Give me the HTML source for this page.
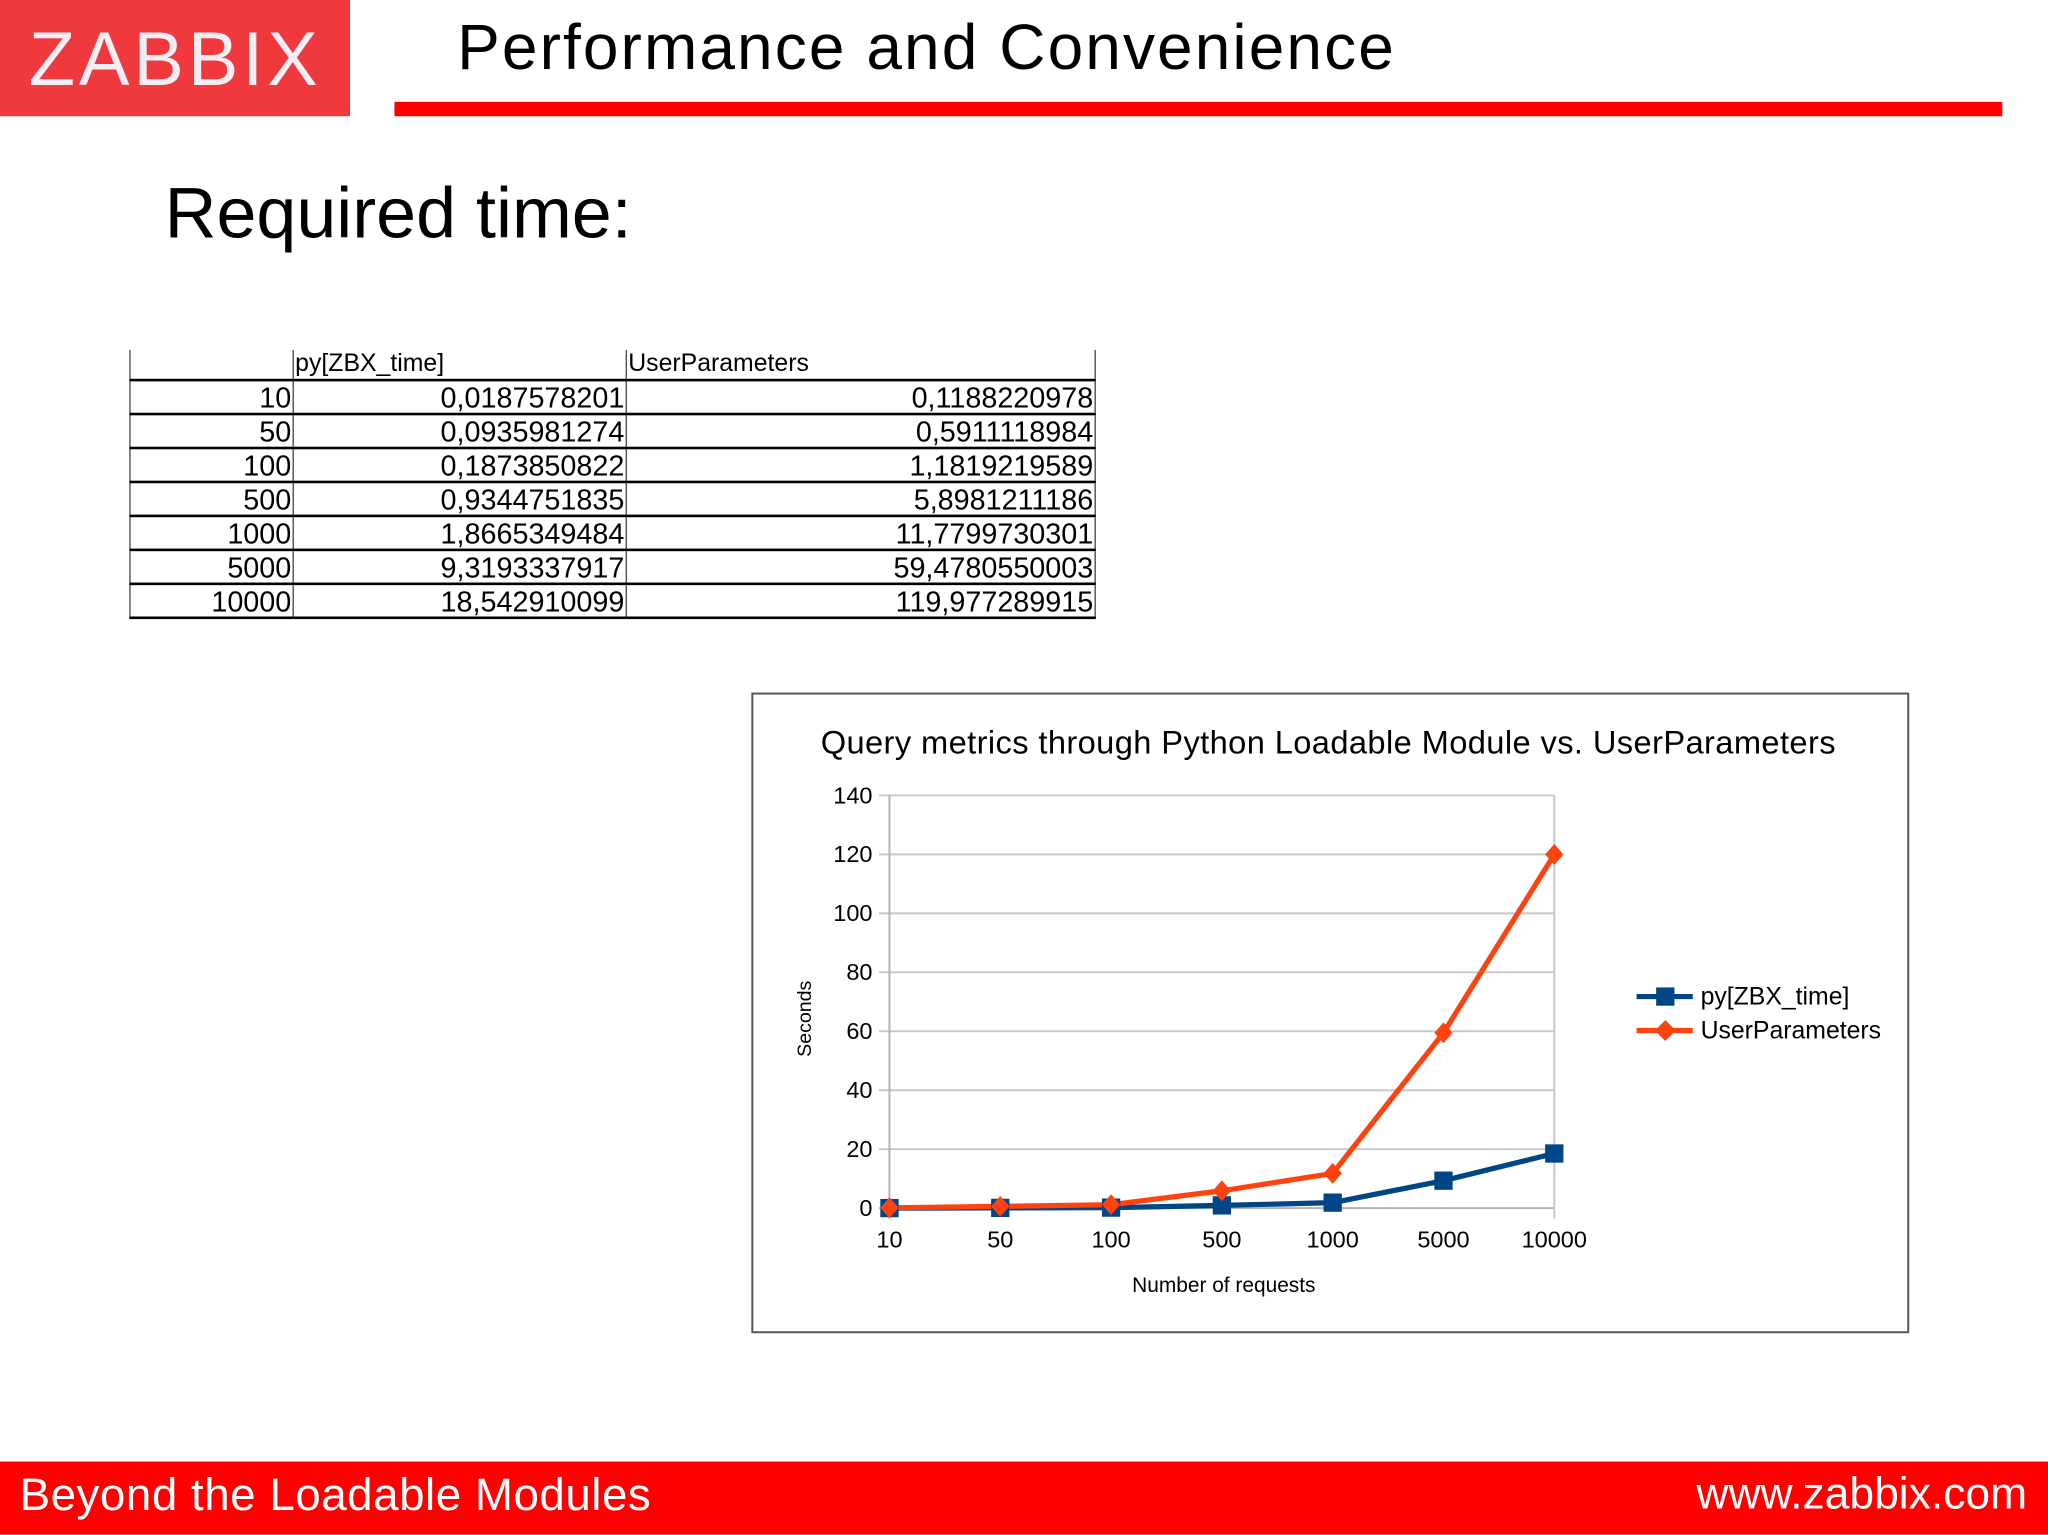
<!DOCTYPE html>
<html><head><meta charset="utf-8"><style>
html,body{margin:0;padding:0;background:#fff;width:2048px;height:1535px;overflow:hidden}
#stage{position:absolute;left:0;top:0;width:1568px;height:1175px;transform:scale(1.30612);transform-origin:0 0;font-family:"Liberation Sans",sans-serif}
.abs{position:absolute;white-space:nowrap}
table{border-collapse:collapse;position:absolute;left:99px;top:268px;font-family:"Liberation Sans",sans-serif}
td{border-bottom:2px solid #000;border-right:1px solid #444;padding:0 1px;height:24px;font-size:22px;text-align:right;vertical-align:bottom;line-height:22px}
tr.h td{border-bottom:2px solid #000;font-size:19px;text-align:left;height:22px}
td:first-child{border-left:1px solid #444}
</style></head><body>
<div id="stage">
  <div class="abs" style="left:0;top:0;width:268px;height:89px;background:#f0393c;color:#f4eef4;font-size:58px;letter-spacing:3px;line-height:92px;text-indent:22px">ZABBIX</div>
  <div class="abs" style="left:350px;top:9px;font-size:49px;letter-spacing:1.6px;color:#000">Performance and Convenience</div>
  <div class="abs" style="left:302px;top:78px;width:1231px;height:11px;background:#ff0000"></div>
  <div class="abs" style="left:126px;top:131px;font-size:55px;color:#000">Required time:</div>

  <table>
    <tr class="h"><td style="width:122px"></td><td style="width:252px">py[ZBX_time]</td><td style="width:356px">UserParameters</td></tr>
    <tr><td>10</td><td>0,0187578201</td><td>0,1188220978</td></tr>
    <tr><td>50</td><td>0,0935981274</td><td>0,5911118984</td></tr>
    <tr><td>100</td><td>0,1873850822</td><td>1,1819219589</td></tr>
    <tr><td>500</td><td>0,9344751835</td><td>5,8981211186</td></tr>
    <tr><td>1000</td><td>1,8665349484</td><td>11,7799730301</td></tr>
    <tr><td>5000</td><td>9,3193337917</td><td>59,4780550003</td></tr>
    <tr><td>10000</td><td>18,542910099</td><td>119,977289915</td></tr>
  </table>

  <svg class="abs" style="left:0;top:0" width="1568" height="1175" id="chart">
    <rect x="576" y="531" width="885" height="489" fill="#fff" stroke="#555" stroke-width="1.5"/>
    <text x="1017" y="577" text-anchor="middle" font-size="25" letter-spacing="0.3" font-family="Liberation Sans">Query metrics through Python Loadable Module vs. UserParameters</text>
    <g id="grid"></g><g id="series"></g>
    <text transform="translate(621,780) rotate(-90)" text-anchor="middle" font-size="15" font-family="Liberation Sans">Seconds</text>
    <text x="937" y="989" text-anchor="middle" font-size="16" font-family="Liberation Sans">Number of requests</text>
    <line x1="1253" y1="763" x2="1296" y2="763" stroke="#004586" stroke-width="4"/>
    <rect x="1268" y="756" width="14" height="14" fill="#004586"/>
    <text x="1302" y="769" font-size="19" font-family="Liberation Sans">py[ZBX_time]</text>
    <line x1="1253" y1="789" x2="1296" y2="789" stroke="#ff420e" stroke-width="4"/>
    <path d="M1275 781 L1283 789 L1275 797 L1267 789Z" fill="#ff420e"/>
    <text x="1302" y="795" font-size="19" font-family="Liberation Sans">UserParameters</text>
  </svg>

  <div class="abs" style="left:0;top:1119px;width:1568px;height:56px;background:#ff0000"></div>
  <div class="abs" style="left:15px;top:1125px;font-size:35px;letter-spacing:0.4px;color:#fff">Beyond the Loadable Modules</div>
  <div class="abs" style="right:16px;top:1125px;font-size:34px;color:#fff">www.zabbix.com</div>
</div>
<script>
const categories=["10","50","100","500","1000","5000","10000"];
const pyValues=[0.0188,0.0936,0.1874,0.9345,1.8665,9.3193,18.5429];
const upValues=[0.1188,0.5911,1.1819,5.8981,11.7800,59.4781,119.9773];
const yTicks=[0,20,40,60,80,100,120,140];
const NS="http://www.w3.org/2000/svg";
const X0=681,X1=1190,Y0=925,Y1=609,YMAX=140;
const xs=i=>X0+i*(X1-X0)/(categories.length-1);
const ys=v=>Y0-v/YMAX*(Y0-Y1);
function mk(t,a,p){const e=document.createElementNS(NS,t);for(const k in a)e.setAttribute(k,a[k]);p.appendChild(e);return e;}
const grid=document.getElementById('grid'),ser=document.getElementById('series');
yTicks.forEach(v=>{
  const l=mk('line',{x1:X0-8,x2:X1,y1:ys(v),y2:ys(v),stroke:v===0?'#b3b3b3':'#c8c8c8','stroke-width':1.5},grid);
  
  
  const t=mk('text',{x:668,y:ys(v)+6,'text-anchor':'end','font-size':18,'font-family':'Liberation Sans'},grid);
  t.textContent=v;
  
  
});
const ax=mk('line',{x1:X0,x2:X0,y1:Y1,y2:Y0+8,stroke:'#b3b3b3','stroke-width':1.5},grid);


const rb=mk('line',{x1:X1,x2:X1,y1:Y1,y2:Y0+8,stroke:'#c8c8c8','stroke-width':1.5},grid);


categories.forEach((c,i)=>{
  const t=mk('text',{x:xs(i),y:955,'text-anchor':'middle','font-size':18,'font-family':'Liberation Sans'},grid);
  t.textContent=c;
  
  
});
function line(vals,color,name){
  const p=mk('polyline',{points:vals.map((v,i)=>xs(i)+','+ys(v)).join(' '),fill:'none',stroke:color,'stroke-width':4,'stroke-linejoin':'round'},ser);
  
  
}
line(pyValues,'#004586','py');
line(upValues,'#ff420e','userparams');
pyValues.forEach((v,i)=>{
  const r=mk('rect',{x:xs(i)-7,y:ys(v)-7,width:14,height:14,fill:'#004586'},ser);
  
  
});
upValues.forEach((v,i)=>{
  const x=xs(i),y=ys(v);
  const d=mk('path',{d:`M${x} ${y-8}L${x+7} ${y}L${x} ${y+8}L${x-7} ${y}Z`,fill:'#ff420e'},ser);
  
  
});
</script>
</body></html>
